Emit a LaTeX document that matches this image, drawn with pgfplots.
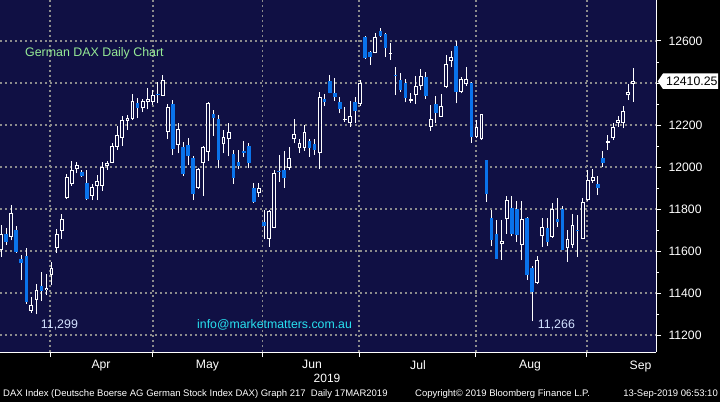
\documentclass[border=0pt]{standalone}
\usepackage{fontspec}
\setmainfont{Liberation Sans}
\usepackage{pgfplots}
\usepackage{pgfplotstable}
\pgfplotsset{compat=1.18}

\definecolor{navy}{RGB}{16,16,68}
\definecolor{cblue}{RGB}{10,115,235}
\definecolor{gridgray}{RGB}{140,140,140}
\definecolor{ttlgreen}{RGB}{150,235,150}
\definecolor{webcyan}{RGB}{40,225,240}
\definecolor{lowlbl}{RGB}{210,225,255}

% DAX daily candles, 18 Mar - 12 Sep 2019 (i = trading day)
\pgfplotstableread{
i O H L C
0 11605 11724 11573 11684
1 11684 11708 11629 11644
2 11668 11819 11652 11782
3 11700 11720 11592 11597
4 11562 11581 11462 11544
5 11576 11616 11351 11359
6 11316 11382 11308 11343
7 11370 11443 11299 11414
8 11433 11500 11363 11411
9 11414 11490 11390 11424
10 11489 11549 11438 11522
11 11613 11705 11592 11681
12 11697 11776 11660 11751
13 11851 11965 11848 11954
14 11919 12029 11911 11986
15 11989 12024 11970 12008
16 11978 11985 11955 11959
17 11925 11986 11843 11846
18 11862 11922 11843 11906
19 11911 11962 11843 11933
20 11910 12025 11887 12001
21 12006 12030 11986 12018
22 12020 12116 12018 12100
23 12097 12195 12081 12152
24 12137 12243 12100 12224
25 12220 12248 12176 12232
26 12229 12348 12224 12314
27 12303 12327 12232 12280
28 12280 12324 12263 12314
29 12310 12375 12275 12325
30 12311 12367 12295 12341
31 12350 12403 12303 12346
32 12340 12438 12338 12414
33 12168 12300 12133 12284
34 12300 12319 12057 12086
35 12105 12208 12065 12180
36 12094 12120 11957 11967
37 12105 12137 12010 12052
38 12041 12052 11843 11871
39 11901 11994 11895 11989
40 12018 12100 11862 12097
41 12073 12311 12030 12306
42 12252 12271 12148 12233
43 12227 12248 11994 12033
44 12108 12176 12065 12141
45 12135 12208 12052 12165
46 12062 12081 11922 11949
47 12024 12081 11989 12005
48 12076 12124 12049 12068
49 12100 12113 11994 12018
50 11903 11925 11830 11832
51 11878 11925 11858 11899
52 11740 11795 11660 11719
53 11656 11795 11620 11790
54 11711 11986 11708 11970
55 11983 12057 11930 11979
56 11986 12076 11901 11949
57 11997 12094 11986 12041
58 12132 12229 12113 12156
59 12089 12132 12068 12113
60 12092 12200 12078 12165
61 12124 12132 12049 12092
62 12110 12132 12060 12081
63 12065 12356 11989 12332
64 12322 12346 12292 12308
65 12410 12438 12351 12354
66 12351 12422 12316 12335
67 12308 12335 12256 12275
68 12224 12284 12216 12229
69 12208 12316 12192 12243
70 12308 12332 12208 12267
71 12300 12414 12290 12399
72 12620 12625 12515 12520
73 12549 12552 12486 12525
74 12544 12637 12541 12618
75 12648 12660 12620 12625
76 12633 12637 12525 12568
77 12539 12592 12510 12543
78 12440 12478 12345 12436
79 12414 12446 12359 12367
80 12399 12419 12308 12330
81 12316 12354 12306 12324
82 12343 12433 12300 12386
83 12386 12467 12367 12433
84 12427 12454 12324 12340
85 12192 12295 12173 12229
86 12300 12338 12211 12256
87 12240 12346 12238 12290
88 12382 12533 12375 12489
89 12506 12552 12478 12522
90 12576 12601 12303 12359
91 12359 12430 12351 12418
92 12395 12478 12386 12418
93 12401 12406 12116 12144
94 12144 12224 12137 12189
95 12132 12253 12130 12251
96 12033 12035 11835 11870
97 11759 11795 11624 11652
98 11684 11748 11563 11565
99 11632 11748 11557 11648
100 11751 11862 11684 11843
101 11806 11862 11671 11684
102 11800 11838 11644 11676
103 11629 11838 11557 11751
104 11759 11762 11462 11486
105 11520 11529 11266 11406
106 11449 11576 11443 11557
107 11671 11756 11620 11713
108 11708 11756 11624 11644
109 11668 11827 11665 11800
110 11751 11851 11716 11740
111 11803 11814 11605 11608
112 11613 11700 11549 11656
113 11629 11775 11613 11727
114 11702 11771 11573 11698
115 11660 11851 11656 11835
116 11843 11986 11840 11938
117 11935 11989 11925 11954
118 11919 11957 11867 11903
119 12044 12076 12001 12020
120 12116 12152 12081 12125
121 12137 12208 12129 12189
122 12208 12243 12192 12224
123 12208 12290 12184 12267
124 12341 12394 12319 12357
125 12395 12470 12311 12410.25
}\dax

\begin{document}
\begin{tikzpicture}
\fill[black] (0,0) rectangle (720pt,402pt);
\begin{axis}[
    at={(0pt,50pt)}, anchor=south west,
    width=656pt, height=352pt, scale only axis,
    xmin=-0.198, xmax=129.5,
    ymin=11120.5, ymax=12795,
    axis background/.style={fill=navy},
    axis x line*=bottom, axis y line*=right,
    axis line style={white, line width=1pt},
    xtick={9.69,30.0,51.7,70.8,93.9,115.8},
    xticklabels={},
    extra x ticks={19.77,40.83,61.49,82.44,104.59,126.43},
    extra x tick labels={Apr,May,Jun,Jul,Aug,Sep},
    extra x tick style={grid=none, tick style={draw=none}},
    ytick={11200,11400,11600,11800,12000,12200,12400,12600},
    yticklabels={11200,11400,11600,11800,12000,12200,,12600},
    scaled y ticks=false,
    minor y tick num=1,
    grid=major,
    major grid style={gridgray, line width=1.6pt, dash pattern=on 2pt off 3pt},
    tick style={white, line width=1pt},
    tick align=outside,
    major tick length=5pt, minor tick length=3pt,
    yticklabel pos=right,
    ticklabel style={font=\fontsize{12.2}{14}\selectfont, text=white},
    yticklabel style={anchor=west, xshift=4pt},
    /pgf/number format/1000 sep={},
    /pgf/number format/assume math mode=true,
]
% wicks
\addplot[white, line width=1pt, quiver={u=0, v=\thisrow{H}-\thisrow{L}}]
    table[x=i, y=L] {\dax};
% falling days
\addplot[cblue, line width=3.5pt, quiver={u=0, v=\thisrow{C}-\thisrow{O}},
    restrict expr to domain={\thisrow{C}-\thisrow{O}}{-100000:0}]
    table[x=i, y=O] {\dax};
% rising days: white outline, navy inside
\addplot[white, line width=3.8pt, quiver={u=0, v=\thisrow{C}-\thisrow{O}},
    restrict expr to domain={\thisrow{C}-\thisrow{O}}{0:100000}]
    table[x=i, y=O] {\dax};
\addplot[navy, line width=1.8pt, quiver={u=0, v={max(\thisrow{C}-\thisrow{O}-9.52,0)}},
    restrict expr to domain={\thisrow{C}-\thisrow{O}}{0:100000}]
    table[x=i, y expr=\thisrow{O}+4.76] {\dax};
\end{axis}

\node[anchor=west, text=ttlgreen, font=\fontsize{12.4}{14}\selectfont, inner sep=0pt]
    at (25pt,348.7pt) {German DAX Daily Chart};
\node[anchor=west, text=webcyan, font=\fontsize{12.3}{14}\selectfont, inner sep=0pt]
    at (197pt,77pt) {info@marketmatters.com.au};
\node[anchor=west, text=lowlbl, font=\fontsize{12.4}{14}\selectfont, inner sep=0pt]
    at (40.7pt,77pt) {11,299};
\node[anchor=west, text=lowlbl, font=\fontsize{12.4}{14}\selectfont, inner sep=0pt]
    at (537.7pt,77pt) {11,266};

% last price tag
\fill[white] (657.7pt,320.7pt) -- (663pt,328.5pt) -- (718pt,328.5pt)
    -- (718pt,313pt) -- (663pt,313pt) -- cycle;
\node[anchor=west, text=black, font=\fontsize{12.3}{14}\selectfont, inner sep=0pt]
    at (666pt,320.7pt) {12410.25};

\node[text=white, font=\fontsize{12}{14}\selectfont, inner sep=0pt] at (327pt,24pt) {2019};

\node[anchor=west, text=white, font=\fontsize{9.5}{11}\selectfont, inner sep=0pt]
    at (3pt,8pt) {DAX Index (Deutsche Boerse AG German Stock Index DAX) Graph 217\ \ Daily 17MAR2019};
\node[anchor=west, text=white, font=\fontsize{9.5}{11}\selectfont, inner sep=0pt]
    at (415pt,8pt) {Copyright© 2019 Bloomberg Finance L.P.};
\node[anchor=east, text=white, font=\fontsize{9.5}{11}\selectfont, inner sep=0pt]
    at (718pt,8pt) {13-Sep-2019 06:53:10};

\pgfresetboundingbox
\useasboundingbox (0,0) rectangle (720pt,402pt);
\end{tikzpicture}
\end{document}
